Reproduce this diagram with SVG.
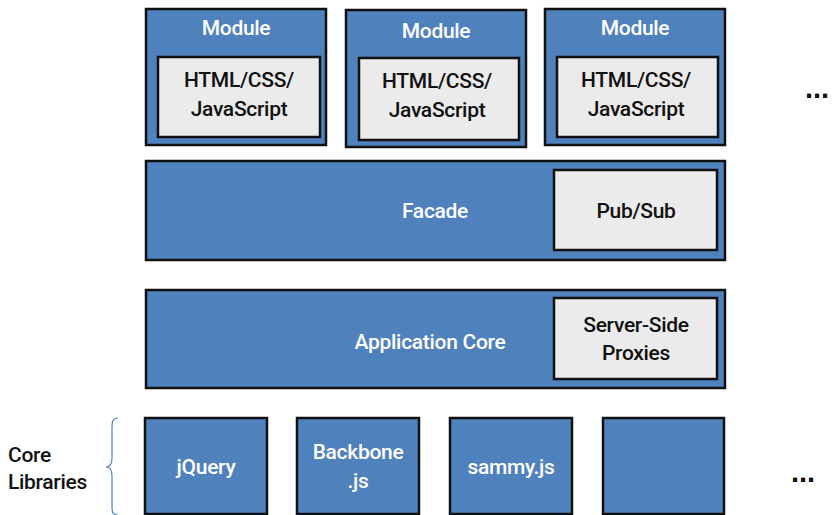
<svg xmlns="http://www.w3.org/2000/svg" width="833" height="515" viewBox="0 0 833 515">
<style>
.blue{fill:#4f81bd;stroke:#111;stroke-width:2.5}
.grey{fill:#ebebeb;stroke:#111;stroke-width:2.5}
text{font-family:Roboto,"Liberation Sans",sans-serif;font-size:21px;text-anchor:middle;font-weight:500;letter-spacing:-0.3px}
.w{fill:#fff}
.k{fill:#111}
.dots{font-family:"Liberation Sans",sans-serif;font-size:29px;font-weight:700;letter-spacing:0}
</style>
<rect width="833" height="515" fill="#fff"/>
<g id="module1">
<rect class="blue" x="146" y="9" width="180" height="136"/>
<text class="w" x="236" y="35">Module</text>
<rect class="grey" x="158" y="57" width="162" height="80"/>
<text class="k" x="239" y="87">HTML/CSS/</text>
<text class="k" x="239" y="116">JavaScript</text>
</g>
<g id="module2">
<rect class="blue" x="346" y="10" width="180" height="137"/>
<text class="w" x="436" y="38">Module</text>
<rect class="grey" x="359" y="58" width="160" height="82"/>
<text class="k" x="437" y="88">HTML/CSS/</text>
<text class="k" x="437" y="117">JavaScript</text>
</g>
<g id="module3">
<rect class="blue" x="545" y="9" width="180" height="136"/>
<text class="w" x="635" y="35">Module</text>
<rect class="grey" x="557" y="57" width="161" height="80"/>
<text class="k" x="636" y="87">HTML/CSS/</text>
<text class="k" x="636" y="116">JavaScript</text>
</g>
<g id="dots-top"><text class="k dots" x="805" y="98" style="text-anchor:start">...</text></g>
<g id="facade">
<rect class="blue" x="146" y="161" width="579" height="99"/>
<text class="w" x="435" y="218">Facade</text>
<rect class="grey" x="554" y="170" width="163" height="80"/>
<text class="k" x="636" y="218">Pub/Sub</text>
</g>
<g id="core">
<rect class="blue" x="146" y="290" width="579" height="98"/>
<text class="w" x="430" y="349">Application Core</text>
<rect class="grey" x="554" y="298" width="163" height="81"/>
<text class="k" x="636" y="332">Server-Side</text>
<text class="k" x="636" y="360">Proxies</text>
</g>
<g id="jquery">
<rect class="blue" x="145" y="418" width="122" height="96"/>
<text class="w" x="206" y="474">jQuery</text>
</g>
<g id="backbone">
<rect class="blue" x="297" y="418" width="122" height="96"/>
<text class="w" x="358" y="459">Backbone</text>
<text class="w" x="358" y="488">.js</text>
</g>
<g id="sammy">
<rect class="blue" x="450" y="418" width="122" height="96"/>
<text class="w" x="511" y="474">sammy.js</text>
</g>
<g id="blank">
<rect class="blue" x="603" y="418" width="121" height="96"/>
</g>
<g id="dots-bottom"><text class="k dots" x="791" y="482" style="text-anchor:start">...</text></g>
<g id="core-libraries">
<path d="M118,418 C112,418 112,422 112,430 L112,458 C112,464 110,467 106,467 C110,467 112,470 112,476 L112,505 C112,512 112,515 118,515" fill="none" stroke="#4f81bd" stroke-width="1.2"/>
<text class="k" x="8" y="462" style="text-anchor:start">Core</text>
<text class="k" x="8" y="489" style="text-anchor:start">Libraries</text>
</g>
</svg>
